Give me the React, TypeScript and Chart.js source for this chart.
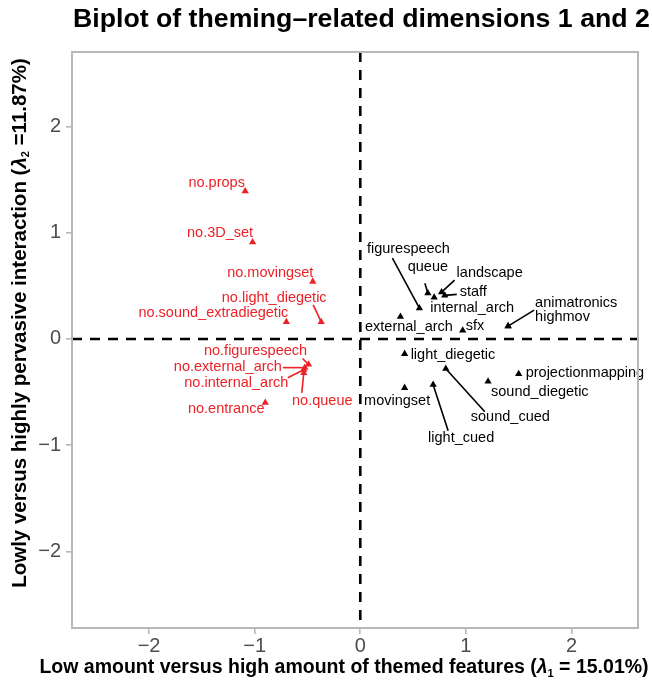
import React, { useEffect, useRef } from "react";
import { Chart, registerables } from "chart.js";

Chart.register(...registerables);

// ---------- data ----------
const negLabels = [
  "no.props",
  "no.3D_set",
  "no.movingset",
  "no.light_diegetic",
  "no.sound_extradiegetic",
  "no.figurespeech",
  "no.external_arch",
  "no.internal_arch",
  "no.queue",
  "no.entrance",
];
const negX = [-1.09, -1.02, -0.45, -0.37, -0.7, -0.49, -0.525, -0.535, -0.535, -0.9];
const negY = [1.39, 0.91, 0.54, 0.16, 0.16, -0.24, -0.27, -0.29, -0.32, -0.6];

const posLabels = [
  "figurespeech",
  "queue",
  "landscape",
  "staff",
  "internal_arch",
  "external_arch",
  "sfx",
  "animatronics",
  "highmov",
  "light_diegetic",
  "projectionmapping",
  "sound_diegetic",
  "movingset",
  "light_cued",
  "sound_cued",
];
const posX = [0.56, 0.64, 0.77, 0.8, 0.7, 0.38, 0.97, 1.4, 1.4, 0.42, 1.5, 1.21, 0.42, 0.69, 0.81];
const posY = [0.29, 0.43, 0.44, 0.41, 0.39, 0.21, 0.08, 0.12, 0.12, -0.14, -0.33, -0.4, -0.46, -0.43, -0.28];

const xTickValues = [-2, -1, 0, 1, 2];
const yTickValues = [-2, -1, 0, 1, 2];

const titleText = "Biplot of theming\u2013related dimensions 1 and 2";
const xTitleParts = ["Low amount versus high amount of themed features (", "\u03bb", "1", " = 15.01%)"];
const yTitleParts = ["Lowly versus highly pervasive interaction (", "\u03bb", "2", " =11.87%)"];

// ---------- label layout (pixel offsets from the point) ----------
type Place = { dx: number; dy: number; align: CanvasTextAlign; lx?: number; ly?: number };
const negPlacement: Place[] = [
  { dx: -28.5, dy: -8, align: "center" },
  { dx: -32.5, dy: -9, align: "center" },
  { dx: -42.5, dy: -9, align: "center" },
  { dx: -47, dy: -24, align: "center", lx: -8, ly: -17 },
  { dx: 2, dy: -9, align: "right" },
  { dx: -53, dy: -13, align: "center", lx: -6, ly: -6 },
  { dx: -23, dy: -1, align: "right", lx: -22, ly: 0 },
  { dx: -67.5, dy: 13, align: "center", lx: -16, ly: 8 },
  { dx: 18.5, dy: 28, align: "center", lx: -2, ly: 20 },
  { dx: -39, dy: 6, align: "center" },
];
const posPlacement: Place[] = [
  { dx: -11, dy: -59, align: "center", lx: -27, ly: -50 },
  { dx: 0, dy: -26, align: "center", lx: -3, ly: -10 },
  { dx: 15, dy: -19, align: "left", lx: 13, ly: -12 },
  { dx: 15, dy: -3, align: "left", lx: 12, ly: -1 },
  { dx: -4, dy: 11, align: "left" },
  { dx: 8.5, dy: 10, align: "center" },
  { dx: 3, dy: -4, align: "left" },
  { dx: 27, dy: -23, align: "left", lx: 26, ly: -16 },
  { dx: 27, dy: -9, align: "left" },
  { dx: 6, dy: 1, align: "left" },
  { dx: 7, dy: -1, align: "left" },
  { dx: 3, dy: 11, align: "left" },
  { dx: -7.5, dy: 13, align: "center" },
  { dx: 28, dy: 53, align: "center", lx: 15, ly: 46 },
  { dx: 64.5, dy: 48, align: "center", lx: 39, ly: 43 },
];

const RED = "#ec2227";
const BLACK = "#000000";
const FONT = "'Liberation Sans', Arial, Helvetica, sans-serif";
const LABEL_FONT = `14.5px ${FONT}`;

function fmt(v: number): string {
  const r = Math.round(v);
  return r < 0 ? "\u2212" + Math.abs(r) : String(r);
}

function drawRich(
  ctx: CanvasRenderingContext2D,
  parts: string[],
  cx: number,
  cy: number,
  size: number
) {
  const fMain = `bold ${size}px ${FONT}`;
  const fLam = `italic bold ${size}px ${FONT}`;
  const fSub = `bold ${Math.round(size * 0.55)}px ${FONT}`;
  const fonts = [fMain, fLam, fSub, fMain];
  const widths = parts.map((p, i) => {
    ctx.font = fonts[i];
    return ctx.measureText(p).width;
  });
  const total = widths.reduce((a, b) => a + b, 0);
  let x = cx - total / 2;
  ctx.textAlign = "left";
  ctx.textBaseline = "middle";
  parts.forEach((p, i) => {
    ctx.font = fonts[i];
    ctx.fillText(p, x, cy + (i === 2 ? size * 0.3 : 0));
    x += widths[i];
  });
}

const annotPlugin = {
  id: "annot",
  beforeDatasetsDraw(chart: any) {
    const { ctx, chartArea, scales } = chart;
    const x0 = scales.x.getPixelForValue(0);
    const y0 = scales.y.getPixelForValue(0);
    ctx.save();
    ctx.strokeStyle = "#000";
    ctx.lineWidth = 2.6;
    ctx.setLineDash([10, 8]);
    ctx.beginPath();
    ctx.moveTo(x0, chartArea.top);
    ctx.lineTo(x0, chartArea.bottom);
    ctx.moveTo(chartArea.left, y0);
    ctx.lineTo(chartArea.right, y0);
    ctx.stroke();
    ctx.restore();
  },
  afterDatasetsDraw(chart: any) {
    const { ctx, scales } = chart;
    const drawSet = (names: string[], xs: number[], ys: number[], places: Place[], color: string) => {
      names.forEach((name, i) => {
        const px = scales.x.getPixelForValue(xs[i]);
        const py = scales.y.getPixelForValue(ys[i]);
        const pl = places[i];
        ctx.save();
        if (pl.lx !== undefined && pl.ly !== undefined) {
          ctx.strokeStyle = color;
          ctx.lineWidth = 1.6;
          ctx.beginPath();
          ctx.moveTo(px + pl.lx, py + pl.ly);
          ctx.lineTo(px, py);
          ctx.stroke();
        }
        ctx.fillStyle = color;
        ctx.font = LABEL_FONT;
        ctx.textAlign = pl.align;
        ctx.textBaseline = "middle";
        ctx.fillText(name, px + pl.dx, py + pl.dy);
        ctx.restore();
      });
    };
    drawSet(negLabels, negX, negY, negPlacement, RED);
    drawSet(posLabels, posX, posY, posPlacement, BLACK);
  },
  afterDraw(chart: any) {
    const { ctx, chartArea } = chart;
    ctx.save();
    // panel border
    ctx.strokeStyle = "#b8b8b8";
    ctx.lineWidth = 2;
    ctx.strokeRect(chartArea.left, chartArea.top, chartArea.right - chartArea.left, chartArea.bottom - chartArea.top);
    // title
    ctx.fillStyle = "#000";
    ctx.font = `bold 26.7px ${FONT}`;
    ctx.textAlign = "left";
    ctx.textBaseline = "middle";
    ctx.fillText(titleText, 73, 20);
    // x title
    drawRich(ctx, xTitleParts, 344, 668, 19.5);
    // y title
    ctx.translate(20, 323);
    ctx.rotate(-Math.PI / 2);
    drawRich(ctx, yTitleParts, 0, 0, 20.5);
    ctx.restore();
  },
};

export default function App() {
  const ref = useRef<HTMLCanvasElement | null>(null);
  useEffect(() => {
    if (!ref.current) return;
    const negData = negX.map((x, i) => ({ x, y: negY[i] }));
    const posData = posX.map((x, i) => ({ x, y: posY[i] }));
    const tickFont = { family: FONT, size: 20 };
    const chart = new Chart(ref.current, {
      type: "scatter",
      data: {
        datasets: [
          {
            label: "absent",
            data: negData,
            pointStyle: "triangle",
            pointRadius: 4.2,
            backgroundColor: RED,
            borderColor: RED,
            borderWidth: 0,
          },
          {
            label: "present",
            data: posData,
            pointStyle: "triangle",
            pointRadius: 4.2,
            backgroundColor: BLACK,
            borderColor: BLACK,
            borderWidth: 0,
          },
        ],
      },
      options: {
        animation: false,
        responsive: false,
        layout: { padding: { top: 52, right: 15, left: 0, bottom: 0 } },
        plugins: {
          legend: { display: false },
          tooltip: { enabled: false },
          title: { display: false },
        },
        scales: {
          x: {
            type: "linear",
            min: -2.73,
            max: 2.63,
            afterFit: (s: any) => {
              s.height = 55;
            },
            afterBuildTicks: (s: any) => {
              s.ticks = xTickValues.map((v) => ({ value: v }));
            },
            ticks: {
              font: tickFont,
              color: "#4d4d4d",
              padding: 0,
              maxRotation: 0,
              callback: (v: any) => fmt(Number(v)),
            },
            grid: {
              display: true,
              drawOnChartArea: false,
              drawTicks: true,
              tickLength: 6,
              color: "#b8b8b8",
              lineWidth: 1.6,
            },
            border: { display: false },
          },
          y: {
            type: "linear",
            min: -2.72,
            max: 2.7,
            afterFit: (s: any) => {
              s.width = 72;
            },
            afterBuildTicks: (s: any) => {
              s.ticks = yTickValues.map((v) => ({ value: v }));
            },
            ticks: {
              font: tickFont,
              color: "#4d4d4d",
              padding: 5,
              callback: (v: any) => fmt(Number(v)),
            },
            grid: {
              display: true,
              drawOnChartArea: false,
              drawTicks: true,
              tickLength: 6,
              color: "#b8b8b8",
              lineWidth: 1.6,
            },
            border: { display: false },
          },
        },
      },
      plugins: [annotPlugin],
    } as any);
    return () => chart.destroy();
  }, []);
  return (
    <div style={{ position: "absolute", left: 0, top: 0, width: 653, height: 683, background: "#fff" }}>
      <canvas ref={ref} width={653} height={683} style={{ display: "block" }} />
    </div>
  );
}
